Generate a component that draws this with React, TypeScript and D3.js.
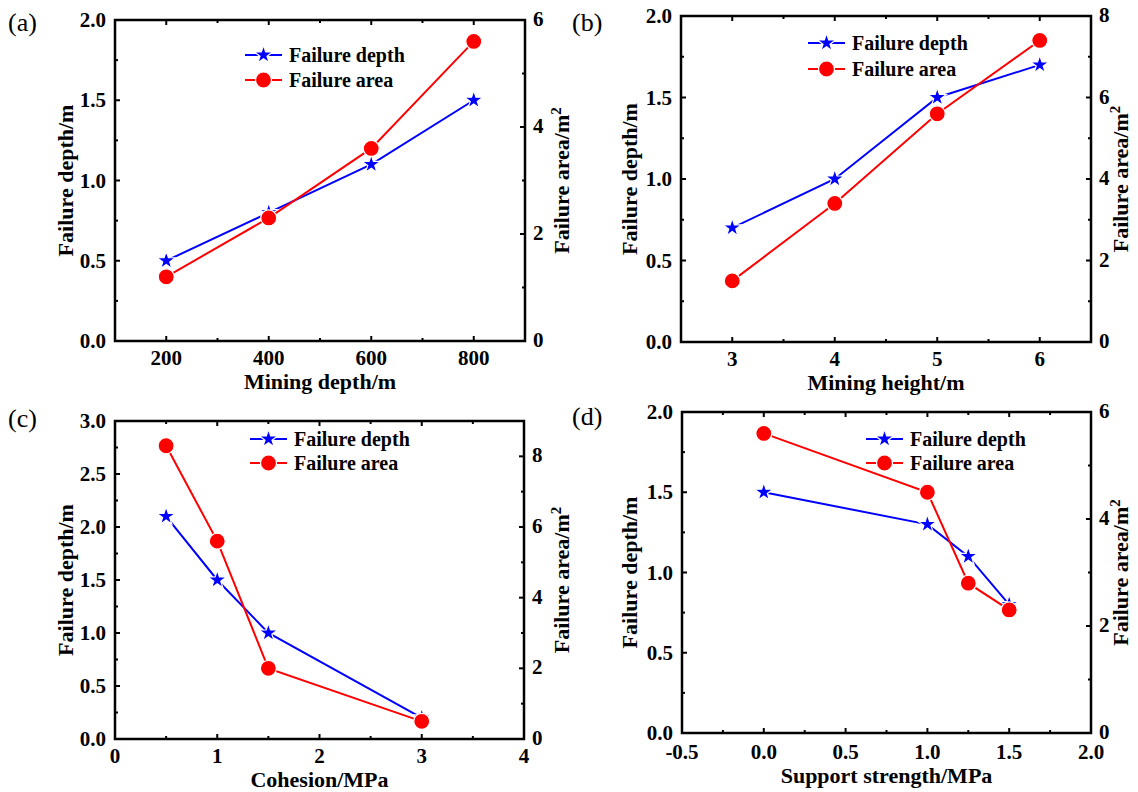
import React from 'react';
import * as d3 from 'd3';

// ---------- data ----------
const depthCats = [200, 400, 600, 800];
const depthFailureDepth = [0.5, 0.8, 1.1, 1.5];
const depthFailureArea = [1.2, 2.3, 3.6, 5.6];

const heightCats = [3, 4, 5, 6];
const heightFailureDepth = [0.7, 1.0, 1.5, 1.7];
const heightFailureArea = [1.5, 3.4, 5.6, 7.4];

const cohesionCats = [0.5, 1, 1.5, 3];
const cohesionFailureDepth = [2.1, 1.5, 1.0, 0.2];
const cohesionFailureArea = [8.3, 5.6, 2.0, 0.5];

const supportCats = [0, 1, 1.25, 1.5];
const supportFailureDepth = [1.5, 1.3, 1.1, 0.8];
const supportFailureArea = [5.6, 4.5, 2.8, 2.3];

const xTicksA = [200, 400, 600, 800];
const xMinorA = [300, 500, 700];
const xTicksB = [3, 4, 5, 6];
const xMinorB = [3.5, 4.5, 5.5];
const xTicksC = [0, 1, 2, 3, 4];
const xMinorC = [0.5, 1.5, 2.5, 3.5];
const xTicksD = [-0.5, 0, 0.5, 1, 1.5, 2];
const xMinorD = [-0.25, 0.25, 0.75, 1.25, 1.75];

const yTicks2 = [0, 0.5, 1, 1.5, 2];
const yMinor2 = [0.25, 0.75, 1.25, 1.75];
const yTicks3 = [0, 0.5, 1, 1.5, 2, 2.5, 3];
const yMinor3 = [0.25, 0.75, 1.25, 1.75, 2.25, 2.75];

const rTicks6 = [0, 2, 4, 6];
const rMinor6 = [1, 3, 5];
const rTicks8 = [0, 2, 4, 6, 8];
const rMinor8 = [1, 3, 5, 7];
const rTicks9 = [0, 2, 4, 6, 8];
const rMinor9 = [1, 3, 5, 7];

const seriesNames = ['Failure depth', 'Failure area'];
const panelLabels = ['(a)', '(b)', '(c)', '(d)'];
const xTitles = ['Mining depth/m', 'Mining height/m', 'Cohesion/MPa', 'Support strength/MPa'];

const BLUE = '#0000ff';
const RED = '#ff0000';
const FONT = 'Liberation Serif';

const fmt1 = (v: number) => d3.format('.1f')(v).replace('\u2212', '-');

const panels = [
  {
    label: panelLabels[0], xTitle: xTitles[0],
    frame: { left: 115, right: 525, top: 20, bottom: 341 },
    xDomain: [100, 900], yLDomain: [0, 2], yRDomain: [0, 6],
    xTicks: xTicksA, xMinor: xMinorA, xFmt: (v: number) => String(v),
    yTicks: yTicks2, yMinor: yMinor2, rTicks: rTicks6, rMinor: rMinor6,
    cats: depthCats, depth: depthFailureDepth, area: depthFailureArea,
    legend: { x: 245, y1: 55, y2: 80 },
    labelPos: { x: 8, y: 31 }, lTitleX: 73, rTitleX: 569, xLabOff: 24, xTitleOff: 48,
  },
  {
    label: panelLabels[1], xTitle: xTitles[1],
    frame: { left: 681, right: 1091, top: 16, bottom: 342 },
    xDomain: [2.5, 6.5], yLDomain: [0, 2], yRDomain: [0, 8],
    xTicks: xTicksB, xMinor: xMinorB, xFmt: (v: number) => String(v),
    yTicks: yTicks2, yMinor: yMinor2, rTicks: rTicks8, rMinor: rMinor8,
    cats: heightCats, depth: heightFailureDepth, area: heightFailureArea,
    legend: { x: 808, y1: 43, y2: 69 },
    labelPos: { x: 572, y: 31 }, lTitleX: 637, rTitleX: 1128, xLabOff: 24, xTitleOff: 48,
  },
  {
    label: panelLabels[2], xTitle: xTitles[2],
    frame: { left: 115, right: 524, top: 421, bottom: 739 },
    xDomain: [0, 4], yLDomain: [0, 3], yRDomain: [0, 9],
    xTicks: xTicksC, xMinor: xMinorC, xFmt: (v: number) => String(v),
    yTicks: yTicks3, yMinor: yMinor3, rTicks: rTicks9, rMinor: rMinor9,
    cats: cohesionCats, depth: cohesionFailureDepth, area: cohesionFailureArea,
    legend: { x: 250, y1: 439, y2: 463 },
    labelPos: { x: 8, y: 427 }, lTitleX: 73, rTitleX: 569, xLabOff: 24, xTitleOff: 48,
  },
  {
    label: panelLabels[3], xTitle: xTitles[3],
    frame: { left: 682, right: 1091, top: 412, bottom: 733 },
    xDomain: [-0.5, 2], yLDomain: [0, 2], yRDomain: [0, 6],
    xTicks: xTicksD, xMinor: xMinorD, xFmt: fmt1,
    yTicks: yTicks2, yMinor: yMinor2, rTicks: rTicks6, rMinor: rMinor6,
    cats: supportCats, depth: supportFailureDepth, area: supportFailureArea,
    legend: { x: 866, y1: 439, y2: 463 },
    labelPos: { x: 572, y: 425 }, lTitleX: 637, rTitleX: 1128, xLabOff: 26, xTitleOff: 50,
  },
];

const starPath = d3.symbol(d3.symbolStar, 105)() as string;
const MAJ = 5;
const MIN = 3;

function Panel({ p }: { p: any }) {
  const { left, right, top, bottom } = p.frame;
  const x = d3.scaleLinear().domain(p.xDomain).range([left, right]);
  const yL = d3.scaleLinear().domain(p.yLDomain).range([bottom, top]);
  const yR = d3.scaleLinear().domain(p.yRDomain).range([bottom, top]);
  const lineL = d3.line<number>().x((_, i) => x(p.cats[i])).y((d) => yL(d));
  const lineR = d3.line<number>().x((_, i) => x(p.cats[i])).y((d) => yR(d));
  const midY = (top + bottom) / 2;
  const midX = (left + right) / 2;
  const lg = p.legend;
  return (
    <g>
      <g stroke="#000" strokeWidth={2}>
        {p.xTicks.map((v: number) => (
          <g key={'xt' + v}>
            <line x1={x(v)} x2={x(v)} y1={bottom} y2={bottom - MAJ} />
            <line x1={x(v)} x2={x(v)} y1={top} y2={top + MAJ} />
          </g>
        ))}
        {p.xMinor.map((v: number) => (
          <g key={'xm' + v}>
            <line x1={x(v)} x2={x(v)} y1={bottom} y2={bottom - MIN} />
            <line x1={x(v)} x2={x(v)} y1={top} y2={top + MIN} />
          </g>
        ))}
        {p.yTicks.map((v: number) => (
          <line key={'yt' + v} x1={left} x2={left + MAJ} y1={yL(v)} y2={yL(v)} />
        ))}
        {p.yMinor.map((v: number) => (
          <line key={'ym' + v} x1={left} x2={left + MIN} y1={yL(v)} y2={yL(v)} />
        ))}
        {p.rTicks.map((v: number) => (
          <line key={'rt' + v} x1={right} x2={right - MAJ} y1={yR(v)} y2={yR(v)} />
        ))}
        {p.rMinor.map((v: number) => (
          <line key={'rm' + v} x1={right} x2={right - MIN} y1={yR(v)} y2={yR(v)} />
        ))}
      </g>
      <rect x={left} y={top} width={right - left} height={bottom - top} fill="none" stroke="#000" strokeWidth={2.5} />
      <g style={{ fontFamily: FONT }} fontWeight="bold" fontSize={21} fill="#000">
        {p.xTicks.map((v: number) => (
          <text key={'xl' + v} x={x(v)} y={bottom + p.xLabOff} textAnchor="middle">{p.xFmt(v)}</text>
        ))}
        {p.yTicks.map((v: number) => (
          <text key={'yl' + v} x={left - 9} y={yL(v) + 7} textAnchor="end">{fmt1(v)}</text>
        ))}
        {p.rTicks.map((v: number) => (
          <text key={'rl' + v} x={right + 8} y={yR(v) + 6} textAnchor="start">{String(v)}</text>
        ))}
      </g>
      <g style={{ fontFamily: FONT }} fontWeight="bold" fontSize={22} fill="#000">
        <text x={midX} y={bottom + p.xTitleOff} textAnchor="middle">{p.xTitle}</text>
        <text transform={`translate(${p.lTitleX},${midY}) rotate(-90)`} textAnchor="middle">Failure depth/m</text>
        <text transform={`translate(${p.rTitleX},${midY}) rotate(-90)`} textAnchor="middle">
          Failure area/m<tspan dy={-8} fontSize={15}>2</tspan>
        </text>
      </g>
      <text x={p.labelPos.x} y={p.labelPos.y} style={{ fontFamily: FONT }} fontSize={26} fill="#000">{p.label}</text>
      <path d={lineL(p.depth) as string} fill="none" stroke={BLUE} strokeWidth={2} />
      {p.depth.map((d: number, i: number) => (
        <path key={'s' + i} d={starPath} transform={`translate(${x(p.cats[i])},${yL(d)})`} fill={BLUE} stroke="#fff" strokeWidth={1.2} />
      ))}
      <path d={lineR(p.area) as string} fill="none" stroke={RED} strokeWidth={2} />
      {p.area.map((d: number, i: number) => (
        <circle key={'c' + i} cx={x(p.cats[i])} cy={yR(d)} r={8} fill={RED} stroke="#fff" strokeWidth={1.2} />
      ))}
      <g>
        <line x1={lg.x} x2={lg.x + 37} y1={lg.y1} y2={lg.y1} stroke={BLUE} strokeWidth={2} />
        <path d={starPath} transform={`translate(${lg.x + 18.5},${lg.y1})`} fill={BLUE} stroke="#fff" strokeWidth={1.2} />
        <line x1={lg.x} x2={lg.x + 37} y1={lg.y2} y2={lg.y2} stroke={RED} strokeWidth={2} />
        <circle cx={lg.x + 18.5} cy={lg.y2} r={8} fill={RED} stroke="#fff" strokeWidth={1.2} />
        <g style={{ fontFamily: FONT }} fontWeight="bold" fontSize={20} fill="#000">
          <text x={lg.x + 44} y={lg.y1 + 7}>{seriesNames[0]}</text>
          <text x={lg.x + 44} y={lg.y2 + 7}>{seriesNames[1]}</text>
        </g>
      </g>
    </g>
  );
}

export default function App() {
  return (
    <svg width={1138} height={792} style={{ position: 'absolute', left: 0, top: 0, background: '#fff' }}>
      <rect x={0} y={0} width={1138} height={792} fill="#fff" />
      {panels.map((p, i) => (
        <Panel key={i} p={p} />
      ))}
    </svg>
  );
}
